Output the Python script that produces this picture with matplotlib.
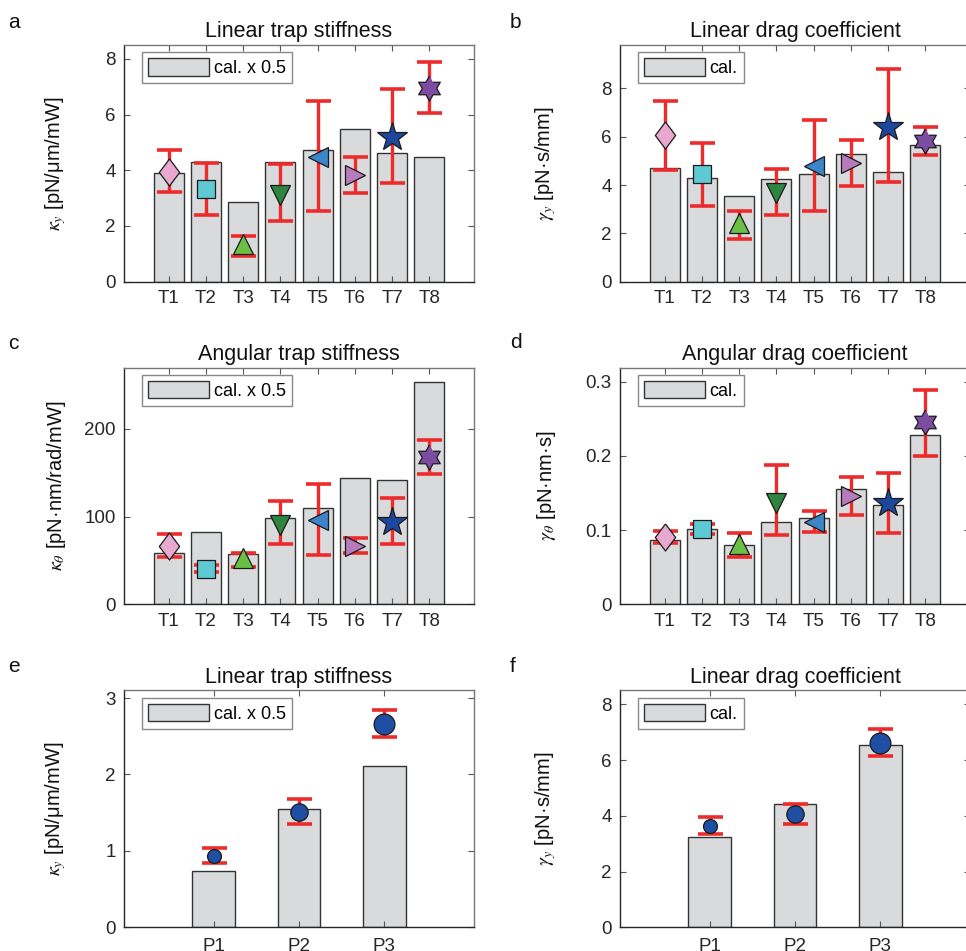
import matplotlib
matplotlib.use('Agg')
import matplotlib.pyplot as plt
import numpy as np
from matplotlib.ticker import FuncFormatter

plt.rcParams['font.family'] = ['Liberation Sans', 'DejaVu Sans']
plt.rcParams['mathtext.fontset'] = 'stix'

traps = ['T1', 'T2', 'T3', 'T4', 'T5', 'T6', 'T7', 'T8']
powers = ['P1', 'P2', 'P3']

# a: linear trap stiffness per trap
kap_y_cal = [3.89, 4.28, 2.85, 4.31, 4.74, 5.47, 4.62, 4.48]
kap_y = [3.95, 3.32, 1.35, 3.11, 4.49, 3.83, 5.21, 6.97]
kap_y_lo = [3.21, 2.40, 0.91, 2.17, 2.55, 3.17, 3.56, 6.06]
kap_y_hi = [4.71, 4.25, 1.65, 4.22, 6.50, 4.49, 6.90, 7.90]

# b: linear drag coefficient per trap
gam_y_cal = [4.71, 4.30, 3.54, 4.24, 4.46, 5.30, 4.56, 5.67]
gam_y = [6.06, 4.45, 2.42, 3.65, 4.79, 4.90, 6.42, 5.81]
gam_y_lo = [4.63, 3.15, 1.76, 2.75, 2.91, 3.94, 4.12, 5.25]
gam_y_hi = [7.48, 5.72, 2.92, 4.68, 6.69, 5.85, 8.80, 6.40]

# c: angular trap stiffness per trap
kap_t_cal = [58.6, 82.4, 57.5, 98.3, 110.4, 143.7, 142.2, 253.7]
kap_t = [66.9, 40.5, 52.9, 90.4, 96.4, 66.9, 93.4, 167.9]
kap_t_lo = [53.7, 36.7, 43.1, 68.8, 56.7, 58.6, 68.4, 148.2]
kap_t_hi = [79.8, 45.0, 58.2, 118.3, 136.9, 75.6, 121.0, 187.9]

# d: angular drag coefficient per trap
gam_t_cal = [0.0862, 0.1018, 0.0795, 0.1116, 0.1161, 0.1558, 0.1335, 0.2281]
gam_t = [0.0906, 0.1009, 0.0817, 0.136, 0.1107, 0.146, 0.136, 0.2455]
gam_t_lo = [0.0826, 0.0942, 0.0638, 0.0929, 0.0978, 0.120, 0.0955, 0.2004]
gam_t_hi = [0.0982, 0.1076, 0.0955, 0.1875, 0.1263, 0.171, 0.1772, 0.2888]

# e: linear trap stiffness vs power
kap_p_cal = [0.739, 1.552, 2.113]
kap_p = [0.935, 1.513, 2.665]
kap_p_lo = [0.839, 1.357, 2.491]
kap_p_hi = [1.04, 1.678, 2.843]

# f: linear drag coefficient vs power
gam_p_cal = [3.23, 4.43, 6.54]
gam_p = [3.65, 4.06, 6.63]
gam_p_lo = [3.35, 3.69, 6.14]
gam_p_hi = [3.94, 4.43, 7.13]

# marker styles
ang = np.deg2rad(90 + 30 * np.arange(12))
rad = np.where(np.arange(12) % 2 == 0, 1.0, 1 / np.sqrt(3))
hexagram = list(zip(rad * np.cos(ang), rad * np.sin(ang)))
diamond = [(0, 1), (0.75, 0), (0, -1), (-0.75, 0), (0, 1)]

trap_markers = [
    (diamond, 19.5, '#e8a8cf'),
    ('s', 13, '#5ec8d3'),
    ('^', 15, '#6cbf45'),
    ('v', 15, '#2e8540'),
    ('<', 15, '#3b86c8'),
    ('>', 15, '#b77bbd'),
    ('*', 22, '#1d479c'),
    (hexagram, 18, '#7b4c9f'),
]
power_markers = [('o', 10, '#1f4fa3'), ('o', 12.5, '#1f4fa3'), ('o', 15, '#1f4fa3')]

BAR = '#d9dadc'
RED = '#ee2b2b'
DARK = '#262626'


def draw_panel(ax, labels, cal, val, lo, hi, markers, leg, title, ylabel,
               ylim, yticks, xlim, width, lab_x, xpad=6):
    x = np.arange(1, len(labels) + 1)
    ax.bar(x, cal, width=width, color=BAR, edgecolor='#333333', linewidth=1,
           label=leg, zorder=1)
    val = np.array(val)
    yerr = [val - np.array(lo), np.array(hi) - val]
    ax.errorbar(x, val, yerr=yerr, fmt='none', ecolor=RED, elinewidth=2.4,
                capsize=9, capthick=2.6, zorder=2)
    for xi, v, (m, s, c) in zip(x, val, markers):
        ax.plot(xi, v, marker=m, markersize=s, color=c, markeredgecolor='#1a1a1a',
                markeredgewidth=0.9, linestyle='none', zorder=3)
    ax.set_xlim(*xlim)
    ax.set_ylim(*ylim)
    ax.set_xticks(x)
    ax.set_xticklabels(labels)
    ax.set_yticks(yticks)
    ax.yaxis.set_major_formatter(FuncFormatter(lambda v, _: f'{v:g}'))
    ax.tick_params(direction='in', top=True, right=True, length=4, width=0.8,
                   color='#555555', labelcolor=DARK, labelsize=13.5, pad=6)
    ax.tick_params(axis='x', pad=xpad)
    for s in ['left', 'bottom']:
        ax.spines[s].set_color(DARK)
    for s in ['top', 'right']:
        ax.spines[s].set_color('#777777')
    for s in ax.spines.values():
        s.set_linewidth(1)
    ax.set_title(title, fontsize=15.5, color='#111111', pad=5.5)
    ax.set_ylabel(ylabel, fontsize=14.5, color='#111111')
    ax.yaxis.set_label_coords(lab_x, 0.5)
    lg = ax.legend(loc='upper left', bbox_to_anchor=(0.05, 0.97), borderaxespad=0,
                   fancybox=False, framealpha=1, edgecolor='#888888', fontsize=13,
                   handlelength=3.4, handleheight=1.1, borderpad=0.35,
                   handletextpad=0.25)
    lg.get_frame().set_linewidth(1)


fig = plt.figure(figsize=(9.66, 9.51), dpi=100)
W, H = 966, 951
aw = 350 / W
ah = 0.249
lefts = [124 / W, 620 / W]
bottoms = [0.7038, 0.3645, 0.0250]

axa = fig.add_axes([lefts[0], bottoms[0], aw, ah])
axb = fig.add_axes([lefts[1], bottoms[0], aw, ah])
axc = fig.add_axes([lefts[0], bottoms[1], aw, ah])
axd = fig.add_axes([lefts[1], bottoms[1], aw, ah])
axe = fig.add_axes([lefts[0], bottoms[2], aw, ah])
axf = fig.add_axes([lefts[1], bottoms[2], aw, ah])

txlim = (-0.2, 9.2)
pxlim = (-0.05, 4.05)

draw_panel(axa, traps, kap_y_cal, kap_y, kap_y_lo, kap_y_hi, trap_markers,
           'cal. x 0.5', 'Linear trap stiffness', r'$\kappa_y$ [pN/μm/mW]',
           (0, 8.5), [0, 2, 4, 6, 8], txlim, 0.8, -0.16)
draw_panel(axb, traps, gam_y_cal, gam_y, gam_y_lo, gam_y_hi, trap_markers,
           'cal.', 'Linear drag coefficient', r'$\gamma_y$ [pN·s/mm]',
           (0, 9.8), [0, 2, 4, 6, 8], txlim, 0.8, -0.177)
draw_panel(axc, traps, kap_t_cal, kap_t, kap_t_lo, kap_t_hi, trap_markers,
           'cal. x 0.5', 'Angular trap stiffness', r'$\kappa_\theta$ [pN·nm/rad/mW]',
           (0, 270), [0, 100, 200], txlim, 0.8, -0.16)
draw_panel(axd, traps, gam_t_cal, gam_t, gam_t_lo, gam_t_hi, trap_markers,
           'cal.', 'Angular drag coefficient', r'$\gamma_\theta$ [pN·nm·s]',
           (0, 0.319), [0, 0.1, 0.2, 0.3], txlim, 0.8, -0.177)
draw_panel(axe, powers, kap_p_cal, kap_p, kap_p_lo, kap_p_hi, power_markers,
           'cal. x 0.5', 'Linear trap stiffness', r'$\kappa_y$ [pN/μm/mW]',
           (0, 3.1), [0, 1, 2, 3], pxlim, 0.5, -0.16, xpad=8)
draw_panel(axf, powers, gam_p_cal, gam_p, gam_p_lo, gam_p_hi, power_markers,
           'cal.', 'Linear drag coefficient', r'$\gamma_y$ [pN·s/mm]',
           (0, 8.5), [0, 2, 4, 6, 8], pxlim, 0.5, -0.177, xpad=8)

for letter, px, py in [('a', 8, 28), ('b', 510, 28), ('c', 8, 349),
                       ('d', 510, 348), ('e', 8, 672), ('f', 510, 672)]:
    fig.text(px / W, 1 - py / H, letter, fontsize=15, ha='left', va='baseline',
             color='#111111')

fig.savefig('out.png', dpi=100)
